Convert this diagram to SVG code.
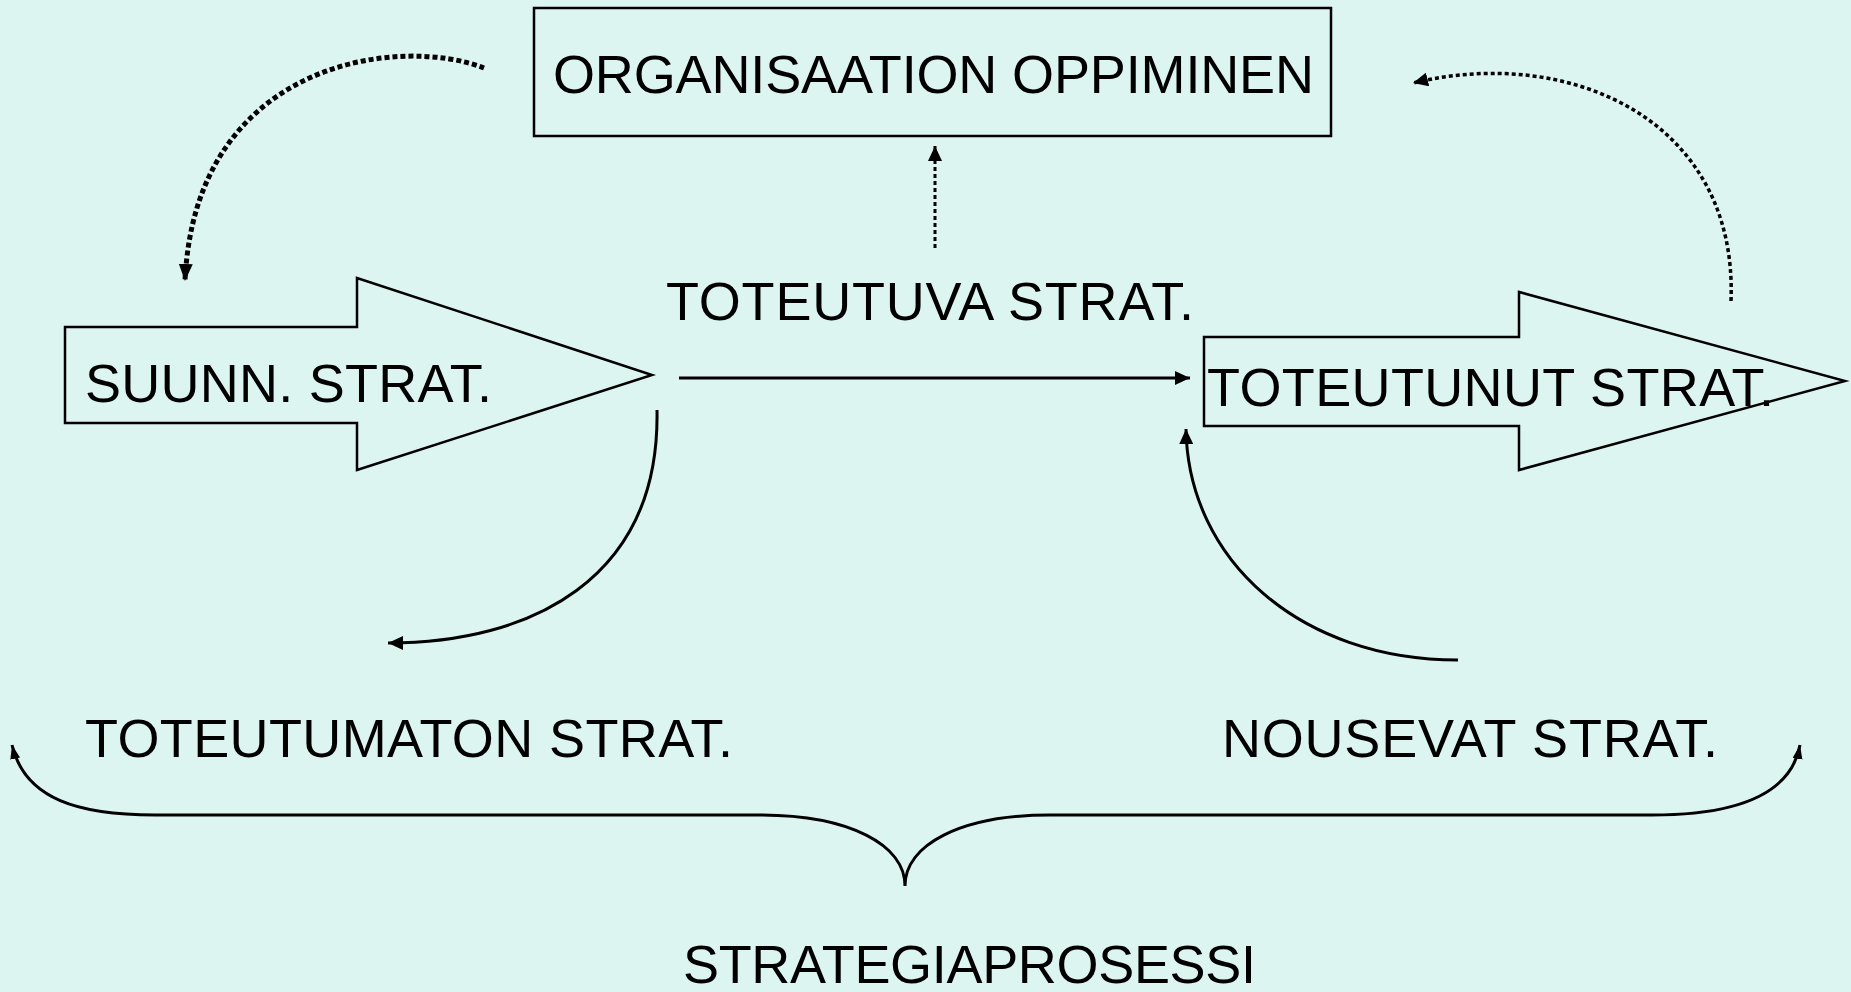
<svg xmlns="http://www.w3.org/2000/svg" width="1851" height="992" viewBox="0 0 1851 992">
<defs>
<style>
.lbl{font-family:"Liberation Sans",Arial,sans-serif;font-size:54px;fill:#000}
.shape{fill:#DDF5F1;stroke:#000;stroke-width:2.5}
.solid{fill:none;stroke:#000;stroke-width:3}
.dotA{fill:none;stroke:#000;stroke-width:5;stroke-dasharray:5 3}
.dotB{fill:none;stroke:#000;stroke-width:3.5;stroke-dasharray:4 3}
.dotC{fill:none;stroke:#000;stroke-width:3;stroke-dasharray:4 3}
</style>
<marker id="ah" markerUnits="userSpaceOnUse" markerWidth="16" markerHeight="14" refX="15" refY="7" orient="auto"><path d="M0,0 L15,7 L0,14 z" fill="#000"/></marker>
<marker id="ahBig" markerUnits="userSpaceOnUse" markerWidth="18" markerHeight="16" refX="17" refY="7" orient="auto"><path d="M0,0 L17,7 L0,14 z" fill="#000"/></marker>
<marker id="ahSmall" markerUnits="userSpaceOnUse" markerWidth="15" markerHeight="12" refX="14" refY="5" orient="auto-start-reverse"><path d="M0,0 L14,5 L0,10 z" fill="#000"/></marker>
</defs>
<rect width="1851" height="992" fill="#DDF5F1"/>

<g id="connectors">
<path class="dotA" d="M484,68 C400,35 195,60 185,281" marker-end="url(#ahBig)"/>
<path class="dotC" d="M935,248 L935,146" marker-end="url(#ah)"/>
<path class="dotB" d="M1731,301 C1738,120 1570,45 1413,83" marker-end="url(#ah)"/>
<path class="solid" d="M679,378 L1190,378" marker-end="url(#ah)"/>
<path class="solid" d="M657,410 C660,580 530,643 388,643" marker-end="url(#ah)"/>
<path class="solid" d="M1458,660 C1300,660 1188,560 1186,429" marker-end="url(#ah)"/>
<path class="solid" d="M12,745 C25,800 80,815 155,815 L760,815 C850,815 905,845 905,886 C905,845 960,815 1050,815 L1652,815 C1725,815 1790,800 1800,745" marker-start="url(#ahSmall)" marker-end="url(#ahSmall)"/>
</g>

<g id="node-org">
<rect class="shape" x="534" y="8" width="797" height="128"/>
<text class="lbl" x="553" y="93" textLength="761">ORGANISAATION OPPIMINEN</text>
</g>

<g id="node-suunn">
<polygon class="shape" points="65,327 357,327 357,278 652,375 357,470 357,423 65,423"/>
<text class="lbl" x="85" y="402" textLength="407">SUUNN. STRAT.</text>
</g>

<g id="node-toteutuva">
<text class="lbl" x="666" y="320" textLength="528">TOTEUTUVA STRAT.</text>
</g>

<g id="node-toteutunut">
<polygon class="shape" points="1204,337 1519,337 1519,292 1845,381 1519,470 1519,426 1204,426"/>
<text class="lbl" x="1207" y="406" textLength="567">TOTEUTUNUT STRAT.</text>
</g>

<g id="node-toteutumaton">
<text class="lbl" x="85" y="757" textLength="648">TOTEUTUMATON STRAT.</text>
</g>

<g id="node-nousevat">
<text class="lbl" x="1222" y="757" textLength="496">NOUSEVAT STRAT.</text>
</g>

<g id="node-strategiaprosessi">
<text class="lbl" x="683" y="983" textLength="573">STRATEGIAPROSESSI</text>
</g>
</svg>
